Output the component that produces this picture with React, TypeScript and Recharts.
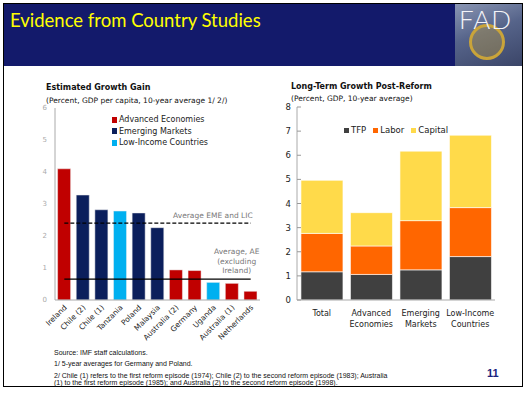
import React from "react";
import {
  BarChart,
  Bar,
  Cell,
  XAxis,
  YAxis,
  Legend,
  ReferenceLine,
} from "recharts";

// left panel: estimated growth gain by country
const countries = [
  "Ireland",
  "Chile (2)",
  "Chile (1)",
  "Tanzania",
  "Poland",
  "Malaysia",
  "Australia (2)",
  "Germany",
  "Uganda",
  "Australia (1)",
  "Netherlands",
];
const growthGain = [4.1, 3.28, 2.82, 2.78, 2.72, 2.26, 0.94, 0.92, 0.55, 0.52, 0.27];
const countryGroup = ["AE", "EM", "EM", "LIC", "EM", "EM", "AE", "AE", "LIC", "AE", "AE"];
const groupKeys = ["AE", "EM", "LIC"];
const groupNames = ["Advanced Economies", "Emerging Markets", "Low-Income Countries"];
const avgEmeLic = 2.4;
const avgAe = 0.65;
const leftTicks = [0, 1, 2, 3, 4, 5, 6];

// right panel: growth decomposition
const regions = ["Total", "Advanced Economies", "Emerging Markets", "Low-Income Countries"];
const factorNames = ["TFP", "Labor", "Capital"];
const tfp = [1.17, 1.06, 1.25, 1.8];
const labor = [1.59, 1.18, 2.04, 2.03];
const capital = [2.2, 1.38, 2.88, 3.0];
const rightTicks = [0, 1, 2, 3, 4, 5, 6, 7, 8];

const groupColor: Record<string, string> = {
  AE: "#c00000",
  EM: "#0b1f5c",
  LIC: "#00b0f0",
};
const FONT = "'DejaVu Sans', Verdana, sans-serif";

const gainData = countries.map((name, i) => ({
  name,
  value: growthGain[i],
  group: countryGroup[i],
}));

const stackData = regions.map((name, i) => ({
  name,
  TFP: tfp[i],
  Labor: labor[i],
  Capital: capital[i],
}));

function RotatedTick({ x, y, payload }: any) {
  return (
    <text
      x={x + 3}
      y={y + 4}
      transform={`rotate(-45 ${x + 3} ${y + 4})`}
      textAnchor="end"
      fontSize={7.5}
      fontFamily={FONT}
      fill="#222"
    >
      {payload.value}
    </text>
  );
}

function WrappedTick({ x, y, payload }: any) {
  const words = String(payload.value).split(" ");
  return (
    <text x={x} y={y + 16} textAnchor="middle" fontSize={8} fontFamily={FONT} fill="#222">
      {words.map((w, i) => (
        <tspan key={w} x={x} dy={i === 0 ? 0 : 11}>
          {w}
        </tspan>
      ))}
    </text>
  );
}

function InwardTick({ x, y, payload }: any) {
  return (
    <g>
      <line x1={x + 6} x2={x + 10} y1={y} y2={y} stroke="#999" />
      <text x={x} y={y + 3} textAnchor="end" fontSize={8.5} fontFamily={FONT} fill="#222">
        {payload.value}
      </text>
    </g>
  );
}

function GroupLegend() {
  return (
    <div style={{ fontFamily: FONT, fontSize: 8, color: "#222", lineHeight: "11.5px" }}>
      {groupKeys.map((g, i) => (
        <div key={g} style={{ display: "flex", alignItems: "center", whiteSpace: "nowrap" }}>
          <span
            style={{
              display: "inline-block",
              width: 5,
              height: 6,
              background: groupColor[g],
              marginRight: 2,
            }}
          />
          {groupNames[i]}
        </div>
      ))}
    </div>
  );
}

function StackLegend({ payload }: any) {
  const items = [...(payload || [])].sort(
    (a: any, b: any) => factorNames.indexOf(a.value) - factorNames.indexOf(b.value)
  );
  return (
    <div style={{ display: "flex", fontFamily: FONT, fontSize: 8.5, color: "#222", whiteSpace: "nowrap" }}>
      {items.map((p: any) => (
        <div key={p.value} style={{ display: "flex", alignItems: "center", marginRight: 7 }}>
          <span
            style={{
              display: "inline-block",
              width: 5,
              height: 5,
              background: p.color,
              marginRight: 2,
            }}
          />
          {p.value}
        </div>
      ))}
    </div>
  );
}

function EmeLabel({ viewBox }: any) {
  return (
    <text
      x={viewBox.x + viewBox.width + 2}
      y={viewBox.y - 5}
      textAnchor="end"
      fontSize={7.5}
      fontFamily={FONT}
      fill="#777"
    >
      Average EME and LIC
    </text>
  );
}

function AeLabel({ viewBox }: any) {
  const cx = viewBox.x + viewBox.width - 14;
  const lines = ["Average, AE", "(excluding", "Ireland)"];
  return (
    <text textAnchor="middle" fontSize={7.5} fontFamily={FONT} fill="#777">
      {lines.map((l, i) => (
        <tspan key={l} x={cx} y={viewBox.y - 25 + i * 9.5}>
          {l}
        </tspan>
      ))}
    </text>
  );
}

function GrowthGainChart() {
  return (
    <BarChart
      width={272}
      height={252}
      data={gainData}
      margin={{ top: 8, right: 12, bottom: 0, left: 30 }}
      barCategoryGap="14%"
    >
      <XAxis
        dataKey="name"
        interval={0}
        height={52}
        tickLine={false}
        tickSize={2}
        tickMargin={2}
        axisLine={{ stroke: "#aaa" }}
        tick={<RotatedTick />}
      />
      <XAxis xAxisId="top" orientation="top" dataKey="name" height={0} tick={false} tickLine={false} axisLine={{ stroke: "#aaa" }} />
      <YAxis
        width={25}
        domain={[0, 6]}
        ticks={leftTicks}
        interval={0}
        tickLine={false}
        axisLine={{ stroke: "#aaa" }}
        tick={{ fontSize: 7, fill: "#aaa", fontFamily: FONT }}
      />
      <YAxis yAxisId="right" orientation="right" width={0} tick={false} tickLine={false} axisLine={{ stroke: "#aaa" }} />
      <Legend
        layout="horizontal"
        verticalAlign="middle"
        align="center"
        content={<GroupLegend />}
        wrapperStyle={{ left: 112, top: 14, width: "auto" }}
      />
      <Bar dataKey="value" isAnimationActive={false} stroke="#eee" strokeWidth={0.5}>
        {gainData.map((d) => (
          <Cell key={d.name} fill={groupColor[d.group]} />
        ))}
      </Bar>
      <ReferenceLine
        segment={[
          { x: countries[0], y: avgEmeLic },
          { x: countries[countries.length - 1], y: avgEmeLic },
        ]}
        stroke="#000"
        strokeWidth={1.2}
        strokeDasharray="4 2"
        label={<EmeLabel />}
      />
      <ReferenceLine
        segment={[
          { x: countries[0], y: avgAe },
          { x: countries[countries.length - 1], y: avgAe },
        ]}
        stroke="#000"
        strokeWidth={1.2}
        label={<AeLabel />}
      />
    </BarChart>
  );
}

function DecompositionChart() {
  return (
    <BarChart
      width={250}
      height={245}
      data={stackData}
      margin={{ top: 12, right: 15, bottom: 0, left: 17 }}
      barCategoryGap="8%"
    >
      <XAxis
        dataKey="name"
        interval={0}
        height={40}
        tickLine={false}
        tickSize={0}
        tickMargin={0}
        axisLine={{ stroke: "#aaa" }}
        tick={<WrappedTick />}
      />
      <XAxis xAxisId="top" orientation="top" dataKey="name" height={0} tick={false} tickLine={false} axisLine={{ stroke: "#aaa" }} />
      <YAxis
        width={20}
        domain={[0, 8]}
        ticks={rightTicks}
        interval={0}
        tickLine={false}
        tickSize={0}
        tickMargin={6}
        axisLine={{ stroke: "#aaa" }}
        tick={<InwardTick />}
      />
      <YAxis yAxisId="right" orientation="right" width={0} tick={false} tickLine={false} axisLine={{ stroke: "#aaa" }} />
      <Legend
        layout="horizontal"
        verticalAlign="middle"
        align="center"
        content={<StackLegend />}
        wrapperStyle={{ left: 84, top: 30, width: "auto" }}
      />
      <Bar dataKey="TFP" stackId="g" fill="#404040" stroke="#fff" strokeWidth={0.6} isAnimationActive={false} />
      <Bar dataKey="Labor" stackId="g" fill="#ff6600" stroke="#fff" strokeWidth={0.6} isAnimationActive={false} />
      <Bar dataKey="Capital" stackId="g" fill="#ffda4a" stroke="#fff" strokeWidth={0.6} isAnimationActive={false} />
    </BarChart>
  );
}

const abs = (left: number, top: number, extra: React.CSSProperties = {}): React.CSSProperties => ({
  position: "absolute",
  left,
  top,
  ...extra,
});

export default function App() {
  return (
    <div style={{ position: "absolute", left: 0, top: 0, width: 526, height: 395, background: "#fff", overflow: "hidden", fontFamily: FONT }}>
      {/* slide frame */}
      <div style={abs(3, 3, { width: 518, height: 382, border: "1px solid #000" })} />
      {/* title bar */}
      <div style={abs(4, 4, { width: 451, height: 62, background: "#131a6b" })} />
      <div style={abs(10, 9, { color: "#ffff00", fontFamily: "Lato, 'Open Sans', sans-serif", fontSize: 18.5, whiteSpace: "nowrap" })}>
        Evidence from Country Studies
      </div>
      {/* FAD logo block */}
      <div
        style={abs(455, 4, {
          width: 67,
          height: 62,
          background: "linear-gradient(160deg, #8a96b4 0%, #56648a 45%, #3b4568 100%)",
          overflow: "hidden",
        })}
      >
        <div
          style={abs(14, 20, {
            width: 36,
            height: 36,
            borderRadius: "50%",
            border: "3px solid #c9a43a",
            boxSizing: "border-box",
            background: "rgba(201,164,58,0.35)",
          })}
        />
        <div style={abs(4, -1, { color: "#f4f4f8", fontFamily: "Lato, sans-serif", fontWeight: 300, fontSize: 26, letterSpacing: 1 })}>
          FAD
        </div>
      </div>

      {/* left chart */}
      <div style={abs(46, 83, { fontWeight: "bold", fontSize: 8, color: "#111", whiteSpace: "nowrap" })}>
        Estimated Growth Gain
      </div>
      <div style={abs(46, 95.5, { fontSize: 7.5, color: "#111", whiteSpace: "nowrap" })}>
        (Percent, GDP per capita, 10-year average 1/ 2/)
      </div>
      <div style={abs(0, 100)}>
        <GrowthGainChart />
      </div>

      {/* right chart */}
      <div style={abs(291, 81.5, { fontWeight: "bold", fontSize: 8, color: "#111", whiteSpace: "nowrap" })}>
        Long-Term Growth Post-Reform
      </div>
      <div style={abs(291, 93.5, { fontSize: 7.5, color: "#111", whiteSpace: "nowrap" })}>
        (Percent, GDP, 10-year average)
      </div>
      <div style={abs(260, 95)}>
        <DecompositionChart />
      </div>

      {/* notes */}
      <div style={abs(54, 348.5, { fontFamily: "'Liberation Sans', Arial, sans-serif", fontSize: 7, color: "#111", lineHeight: "7.5px", whiteSpace: "nowrap" })}>
        <div>Source: IMF staff calculations.</div>
        <div style={{ marginTop: 4 }}>1/ 5-year averages for Germany and Poland.</div>
        <div style={{ marginTop: 4 }}>
          2/ Chile (1) refers to the first reform episode (1974); Chile (2) to the second reform episode (1983); Australia
        </div>
        <div>(1) to the first reform episode (1985); and Australia (2) to the second reform episode (1998).</div>
      </div>
      <div style={abs(487, 367, { fontFamily: "'Liberation Sans', Arial, sans-serif", fontWeight: "bold", fontSize: 11, color: "#1a237e" })}>
        11
      </div>
    </div>
  );
}
